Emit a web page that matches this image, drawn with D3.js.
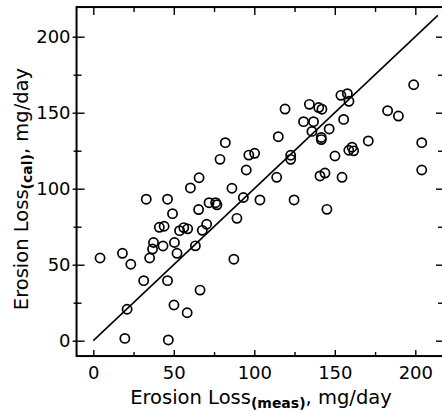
<!DOCTYPE html>
<html>
<head>
<meta charset="utf-8">
<script src="https://cdn.jsdelivr.net/npm/d3@7/dist/d3.min.js"></script>
<style>
  html, body { margin: 0; padding: 0; background: #fff; }
  svg { display: block; }
  text { font-family: "DejaVu Sans", sans-serif; fill: #000; }
</style>
</head>
<body>
<svg id="chart" width="442" height="414"></svg>
<script>
// Measured erosion loss (mg/day)
const measured = [
  4.2, 18.1, 23.3, 21.0, 19.6, 31.3, 32.9, 35.0, 36.8, 37.4,
  41.0, 44.0, 43.3, 46.1, 49.2, 46.1, 46.6, 50.4, 52.0, 50.1,
  53.6, 56.2, 58.6, 58.3, 60.3, 63.4, 65.7, 65.4, 67.7, 70.4,
  66.3, 71.9, 76.0, 76.8, 78.7, 82.0, 86.1, 87.3, 89.2, 93.2,
  95.0, 96.6, 100.2, 103.5, 113.9, 114.9, 119.1, 122.6, 122.6, 124.7,
  130.6, 134.2, 136.8, 135.8, 140.0, 142.0, 141.6, 141.6, 140.8, 143.9,
  146.5, 145.1, 150.1, 153.8, 157.8, 158.8, 155.5, 154.5, 158.7, 160.7,
  161.7, 170.8, 182.8, 189.5, 199.0, 204.0, 204.0
];
// Calculated erosion loss (mg/day)
const calculated = [
  54.4, 57.5, 50.3, 20.7, 1.5, 39.5, 93.1, 54.4, 60.3, 64.6,
  74.6, 75.3, 62.3, 93.1, 83.6, 39.5, 0.5, 64.6, 57.5, 23.5,
  72.4, 74.4, 73.6, 18.4, 100.5, 62.4, 107.2, 86.3, 72.6, 76.6,
  33.3, 90.8, 90.8, 89.4, 119.3, 130.3, 100.3, 53.6, 80.5, 94.2,
  112.3, 122.1, 123.3, 92.6, 107.5, 134.2, 152.4, 122.0, 119.3, 92.6,
  144.1, 155.5, 144.1, 137.7, 153.4, 152.3, 133.7, 132.3, 108.4, 110.3,
  139.3, 86.4, 121.5, 161.4, 162.5, 157.5, 145.6, 107.5, 125.3, 127.3,
  124.9, 131.4, 151.3, 147.8, 168.4, 130.3, 112.3
];
// 1:1 line end points
const lineX = [0, 214];
const lineY = [0, 214];
// Tick values
const majorTicks = [0, 50, 100, 150, 200];
const minorTicks = [25, 75, 125, 175, 225];
const xTitle = ["Erosion Loss", "(meas)", ", mg/day"];
const yTitle = ["Erosion Loss", "(cal)", ", mg/day"];

(function () {
const svg = d3.select("#chart");
const x = d3.scaleLinear().domain([0, 200]).range([93.3, 415.3]);
const y = d3.scaleLinear().domain([0, 200]).range([340.7, 36.7]);

const fLeft = x(-10.4), fRight = 443.5, fTop = y(219.5), fBottom = y(-10.1);

// frame
svg.append("rect")
  .attr("x", fLeft).attr("y", fTop)
  .attr("width", fRight - fLeft).attr("height", fBottom - fTop)
  .attr("fill", "none").attr("stroke", "#000").attr("stroke-width", 2);

function styleAxis(g) {
  g.select(".domain").remove();
  g.selectAll("line").attr("stroke", "#000").attr("stroke-width", 1.4);
}
// left
svg.append("g").attr("transform", `translate(${fLeft},0)`)
  .call(d3.axisLeft(y).tickValues(majorTicks).tickSize(-8).tickPadding(6))
  .call(styleAxis)
  .call(g => g.selectAll("line").attr("x1", -4))
  .call(g => g.selectAll("text").attr("font-size", 18).attr("font-family", "DejaVu Sans"));
svg.append("g").attr("transform", `translate(${fLeft},0)`)
  .call(d3.axisLeft(y).tickValues(minorTicks.filter(v => v < 219)).tickSize(-5).tickFormat(""))
  .call(styleAxis)
  .call(g => g.selectAll("line").attr("x1", -3));
// right
svg.append("g").attr("transform", `translate(442,0)`)
  .call(d3.axisRight(y).tickValues(majorTicks).tickSize(-6).tickFormat(""))
  .call(styleAxis);
svg.append("g").attr("transform", `translate(442,0)`)
  .call(d3.axisRight(y).tickValues(minorTicks.filter(v => v < 219)).tickSize(-4).tickFormat(""))
  .call(styleAxis);
// bottom
svg.append("g").attr("transform", `translate(0,${fBottom})`)
  .call(d3.axisBottom(x).tickValues(majorTicks).tickSize(-6).tickPadding(10))
  .call(styleAxis)
  .call(g => g.selectAll("text").attr("font-size", 18).attr("font-family", "DejaVu Sans"));
svg.append("g").attr("transform", `translate(0,${fBottom})`)
  .call(d3.axisBottom(x).tickValues(minorTicks.filter(v => v < 216)).tickSize(-4).tickFormat(""))
  .call(styleAxis);
// top
svg.append("g").attr("transform", `translate(0,${fTop})`)
  .call(d3.axisTop(x).tickValues(majorTicks).tickSize(-8).tickFormat(""))
  .call(styleAxis);
svg.append("g").attr("transform", `translate(0,${fTop})`)
  .call(d3.axisTop(x).tickValues(minorTicks.filter(v => v < 216)).tickSize(-5).tickFormat(""))
  .call(styleAxis);

// 1:1 line
svg.append("path")
  .datum(lineX.map((v, i) => [v, lineY[i]]))
  .attr("d", d3.line().x(d => x(d[0])).y(d => y(d[1])))
  .attr("fill", "none").attr("stroke", "#000").attr("stroke-width", 1.6);

// points
svg.append("g").selectAll("circle")
  .data(measured.map((m, i) => [m, calculated[i]]))
  .join("circle")
  .attr("cx", d => x(d[0])).attr("cy", d => y(d[1]))
  .attr("r", 4.6)
  .attr("fill", "none").attr("stroke", "#000").attr("stroke-width", 1.7);

// titles
function title(parts, sel) {
  sel.append("tspan").text(parts[0]);
  sel.append("tspan").attr("font-size", 14).attr("font-weight", "bold").attr("dy", 4).text(parts[1]);
  sel.append("tspan").attr("dy", -4).text(parts[2]);
}
const xt = svg.append("text")
  .attr("x", 261).attr("y", 404)
  .attr("text-anchor", "middle").attr("font-size", 19.5);
title(xTitle, xt);
const yt = svg.append("text")
  .attr("transform", "translate(28,189) rotate(-90)")
  .attr("text-anchor", "middle").attr("font-size", 19.5);
title(yTitle, yt);
})();
</script>
</body>
</html>
